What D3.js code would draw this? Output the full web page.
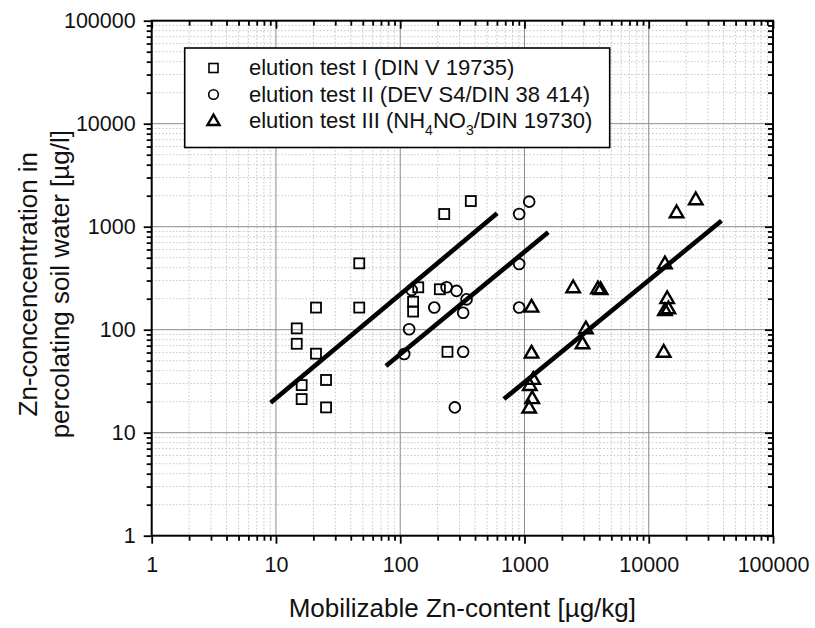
<!DOCTYPE html>
<html>
<head>
<meta charset="utf-8">
<script src="https://cdn.jsdelivr.net/npm/d3@7"></script>
<style>
  html, body { margin: 0; padding: 0; background: #fff; }
  svg { display: block; font-family: "Liberation Sans", Arial, sans-serif; }
</style>
</head>
<body>
<svg id="chart" width="815" height="628"></svg>
<script>
// ---------- data ----------
const testI_x = [370, 226, 46.8, 21, 46.8, 14.7, 14.7, 21, 16.1, 16.1, 25.3, 25.3, 139.7, 127, 127, 208.5, 240];
const testI_y = [1775, 1328, 441, 164, 164, 103, 73, 58.5, 29, 21.2, 32.5, 17.6, 258, 187, 150, 247, 61];

const testII_x = [1091, 906, 906, 906, 123.6, 236, 284, 342, 321, 188, 118, 107.7, 321, 275];
const testII_y = [1750, 1328, 434, 164, 243, 258, 238, 197, 146, 164, 101, 58, 61, 17.6];

const testIII_x = [23900, 16750, 13490, 14070, 13490, 14400, 13200, 2466, 3900, 4100, 3119, 2930, 1140, 1140, 1175, 1104, 1154, 1091];
const testIII_y = [1845, 1380, 441, 202, 155, 161, 61, 258, 252, 247, 103, 73.6, 167, 59.8, 33.2, 29, 21.6, 17.5];

// regression lines: [x0, y0, x1, y1]
const fitI_x = [9.06, 603];
const fitI_y = [19.5, 1349];
const fitII_x = [76.7, 1552];
const fitII_y = [44.4, 883];
const fitIII_x = [683, 38500];
const fitIII_y = [21.2, 1143];

const decadeTicks = [1, 10, 100, 1000, 10000, 100000];
const legendLabels = [
  "elution test I (DIN V 19735)",
  "elution test II (DEV S4/DIN 38 414)",
  "elution test III (NH4NO3/DIN 19730)"
];
const xTitle = "Mobilizable Zn-content [µg/kg]";
const yTitle = ["Zn-concencentration in", "percolating soil water [µg/l]"];

// ---------- layout ----------
const L = 151.7, R = 773, T = 20.7, B = 535.7;
const svg = d3.select("#chart");
const x = d3.scaleLog().domain([1, 100000]).range([L, R]);
const y = d3.scaleLog().domain([1, 100000]).range([B, T]);

const allTicks = x.ticks(); // 1..9 per decade
const minorTicks = allTicks.filter(v => !decadeTicks.includes(v));

// background
svg.append("rect").attr("x", 0).attr("y", 0).attr("width", 815).attr("height", 628).attr("fill", "#fff");

// minor grid (dotted)
const grid = svg.append("g");
grid.selectAll(".mgx").data(minorTicks).join("line")
  .attr("x1", d => x(d)).attr("x2", d => x(d)).attr("y1", T).attr("y2", B)
  .attr("stroke", "#c4c4c4").attr("stroke-width", 1).attr("stroke-dasharray", "1.5,2");
grid.selectAll(".mgy").data(minorTicks).join("line")
  .attr("y1", d => y(d)).attr("y2", d => y(d)).attr("x1", L).attr("x2", R)
  .attr("stroke", "#c4c4c4").attr("stroke-width", 1).attr("stroke-dasharray", "1.5,2");
// major grid
grid.selectAll(".Mgx").data(decadeTicks.slice(1, -1)).join("line")
  .attr("x1", d => x(d)).attr("x2", d => x(d)).attr("y1", T).attr("y2", B)
  .attr("stroke", "#8a8a8a").attr("stroke-width", 1);
grid.selectAll(".Mgy").data(decadeTicks.slice(1, -1)).join("line")
  .attr("y1", d => y(d)).attr("y2", d => y(d)).attr("x1", L).attr("x2", R)
  .attr("stroke", "#8a8a8a").attr("stroke-width", 1);

// ---------- axes ----------
const fmt = d3.format("d");
function styleAxis(g) {
  g.select(".domain").remove();
  g.selectAll(".tick line").attr("stroke", "#000").attr("stroke-width", 1.8);
}
// bottom
svg.append("g").attr("transform", `translate(0,${B})`)
  .call(d3.axisBottom(x).tickValues(decadeTicks).tickFormat(fmt).tickSize(8).tickPadding(13))
  .call(styleAxis)
  .selectAll("text").attr("font-size", 21.5).attr("fill", "#111").attr("font-family", "Liberation Sans, Arial, sans-serif");
svg.append("g").attr("transform", `translate(0,${B})`)
  .call(d3.axisBottom(x).tickValues(minorTicks).tickFormat("").tickSize(5))
  .call(styleAxis);
// left
svg.append("g").attr("transform", `translate(${L},0)`)
  .call(d3.axisLeft(y).tickValues(decadeTicks).tickFormat(fmt).tickSize(8).tickPadding(8))
  .call(styleAxis)
  .selectAll("text").attr("font-size", 21.5).attr("fill", "#111").attr("font-family", "Liberation Sans, Arial, sans-serif");
svg.append("g").attr("transform", `translate(${L},0)`)
  .call(d3.axisLeft(y).tickValues(minorTicks).tickFormat("").tickSize(5))
  .call(styleAxis);
// top (inward)
svg.append("g").attr("transform", `translate(0,${T})`)
  .call(d3.axisTop(x).tickValues(decadeTicks).tickFormat("").tickSize(-8))
  .call(styleAxis);
svg.append("g").attr("transform", `translate(0,${T})`)
  .call(d3.axisTop(x).tickValues(minorTicks).tickFormat("").tickSize(-5))
  .call(styleAxis);
// right (inward)
svg.append("g").attr("transform", `translate(${R},0)`)
  .call(d3.axisRight(y).tickValues(decadeTicks).tickFormat("").tickSize(-8))
  .call(styleAxis);
svg.append("g").attr("transform", `translate(${R},0)`)
  .call(d3.axisRight(y).tickValues(minorTicks).tickFormat("").tickSize(-5))
  .call(styleAxis);

// frame
svg.append("rect").attr("x", L).attr("y", T).attr("width", R - L).attr("height", B - T)
  .attr("fill", "none").attr("stroke", "#000").attr("stroke-width", 2);

// ---------- regression lines ----------
const fits = [[fitI_x, fitI_y], [fitII_x, fitII_y], [fitIII_x, fitIII_y]];
const lineGen = d3.line().x(d => x(d[0])).y(d => y(d[1]));
svg.append("g").selectAll("path").data(fits).join("path")
  .attr("d", f => lineGen(f[0].map((v, i) => [v, f[1][i]])))
  .attr("fill", "none").attr("stroke", "#000").attr("stroke-width", 4.6);

// ---------- markers ----------
const sq = 10, cr = 5.4, ts = 13.5;
const triPath = s => {
  const h = s * 0.866;
  return `M0,${-h * 2 / 3}L${s / 2},${h / 3}L${-s / 2},${h / 3}Z`;
};
const mk = svg.append("g");
mk.selectAll(".s1").data(testI_x.map((v, i) => [v, testI_y[i]])).join("rect")
  .attr("x", d => x(d[0]) - sq / 2).attr("y", d => y(d[1]) - sq / 2)
  .attr("width", sq).attr("height", sq)
  .attr("fill", "none").attr("stroke", "#000").attr("stroke-width", 1.8);
mk.selectAll(".s2").data(testII_x.map((v, i) => [v, testII_y[i]])).join("circle")
  .attr("cx", d => x(d[0])).attr("cy", d => y(d[1])).attr("r", cr)
  .attr("fill", "none").attr("stroke", "#000").attr("stroke-width", 1.8);
mk.selectAll(".s3").data(testIII_x.map((v, i) => [v, testIII_y[i]])).join("path")
  .attr("transform", d => `translate(${x(d[0])},${y(d[1]) + 1})`)
  .attr("d", triPath(ts))
  .attr("fill", "none").attr("stroke", "#000").attr("stroke-width", 2.4).attr("stroke-linejoin", "miter");

// ---------- legend ----------
const lg = svg.append("g");
lg.append("rect").attr("x", 184.7).attr("y", 48).attr("width", 425).attr("height", 99.5)
  .attr("fill", "#fff").attr("stroke", "#000").attr("stroke-width", 1.6);
const rowsY = [75, 101.5, 128];
const symX = 213.5;
lg.append("rect").attr("x", symX - 4.5).attr("y", rowsY[0] - 7 - 4.5).attr("width", 9).attr("height", 9)
  .attr("fill", "none").attr("stroke", "#000").attr("stroke-width", 1.6);
lg.append("circle").attr("cx", symX).attr("cy", rowsY[1] - 7).attr("r", 4.8)
  .attr("fill", "none").attr("stroke", "#000").attr("stroke-width", 1.6);
lg.append("path").attr("transform", `translate(${symX},${rowsY[2] - 6.5})`).attr("d", triPath(12))
  .attr("fill", "none").attr("stroke", "#000").attr("stroke-width", 2.4);

const tx = 249;
lg.append("text").attr("x", tx).attr("y", rowsY[0]).attr("font-size", 22).attr("fill", "#111").text(legendLabels[0]);
lg.append("text").attr("x", tx).attr("y", rowsY[1]).attr("font-size", 22).attr("fill", "#111").text(legendLabels[1]);
const t3 = lg.append("text").attr("x", tx).attr("y", rowsY[2]).attr("font-size", 22).attr("fill", "#111");
// NH4NO3 with subscripts
const m = legendLabels[2].match(/^(.*\(NH)4(NO)3(.*)$/);
t3.append("tspan").text(m[1]);
t3.append("tspan").attr("font-size", 14).attr("dy", 7).text("4");
t3.append("tspan").attr("dy", -7).text(m[2]);
t3.append("tspan").attr("font-size", 14).attr("dy", 7).text("3");
t3.append("tspan").attr("dy", -7).text(m[3]);

// ---------- titles ----------
svg.append("text").attr("x", (L + R) / 2).attr("y", 617).attr("text-anchor", "middle")
  .attr("font-size", 26).attr("fill", "#111").text(xTitle);
const yt = svg.append("text").attr("transform", `translate(37,${(T + B) / 2 + 6}) rotate(-90)`)
  .attr("text-anchor", "middle").attr("font-size", 26).attr("fill", "#111");
yt.append("tspan").attr("x", 0).attr("y", 0).text(yTitle[0]);
yt.append("tspan").attr("x", 0).attr("y", 32).text(yTitle[1]);
</script>
</body>
</html>
